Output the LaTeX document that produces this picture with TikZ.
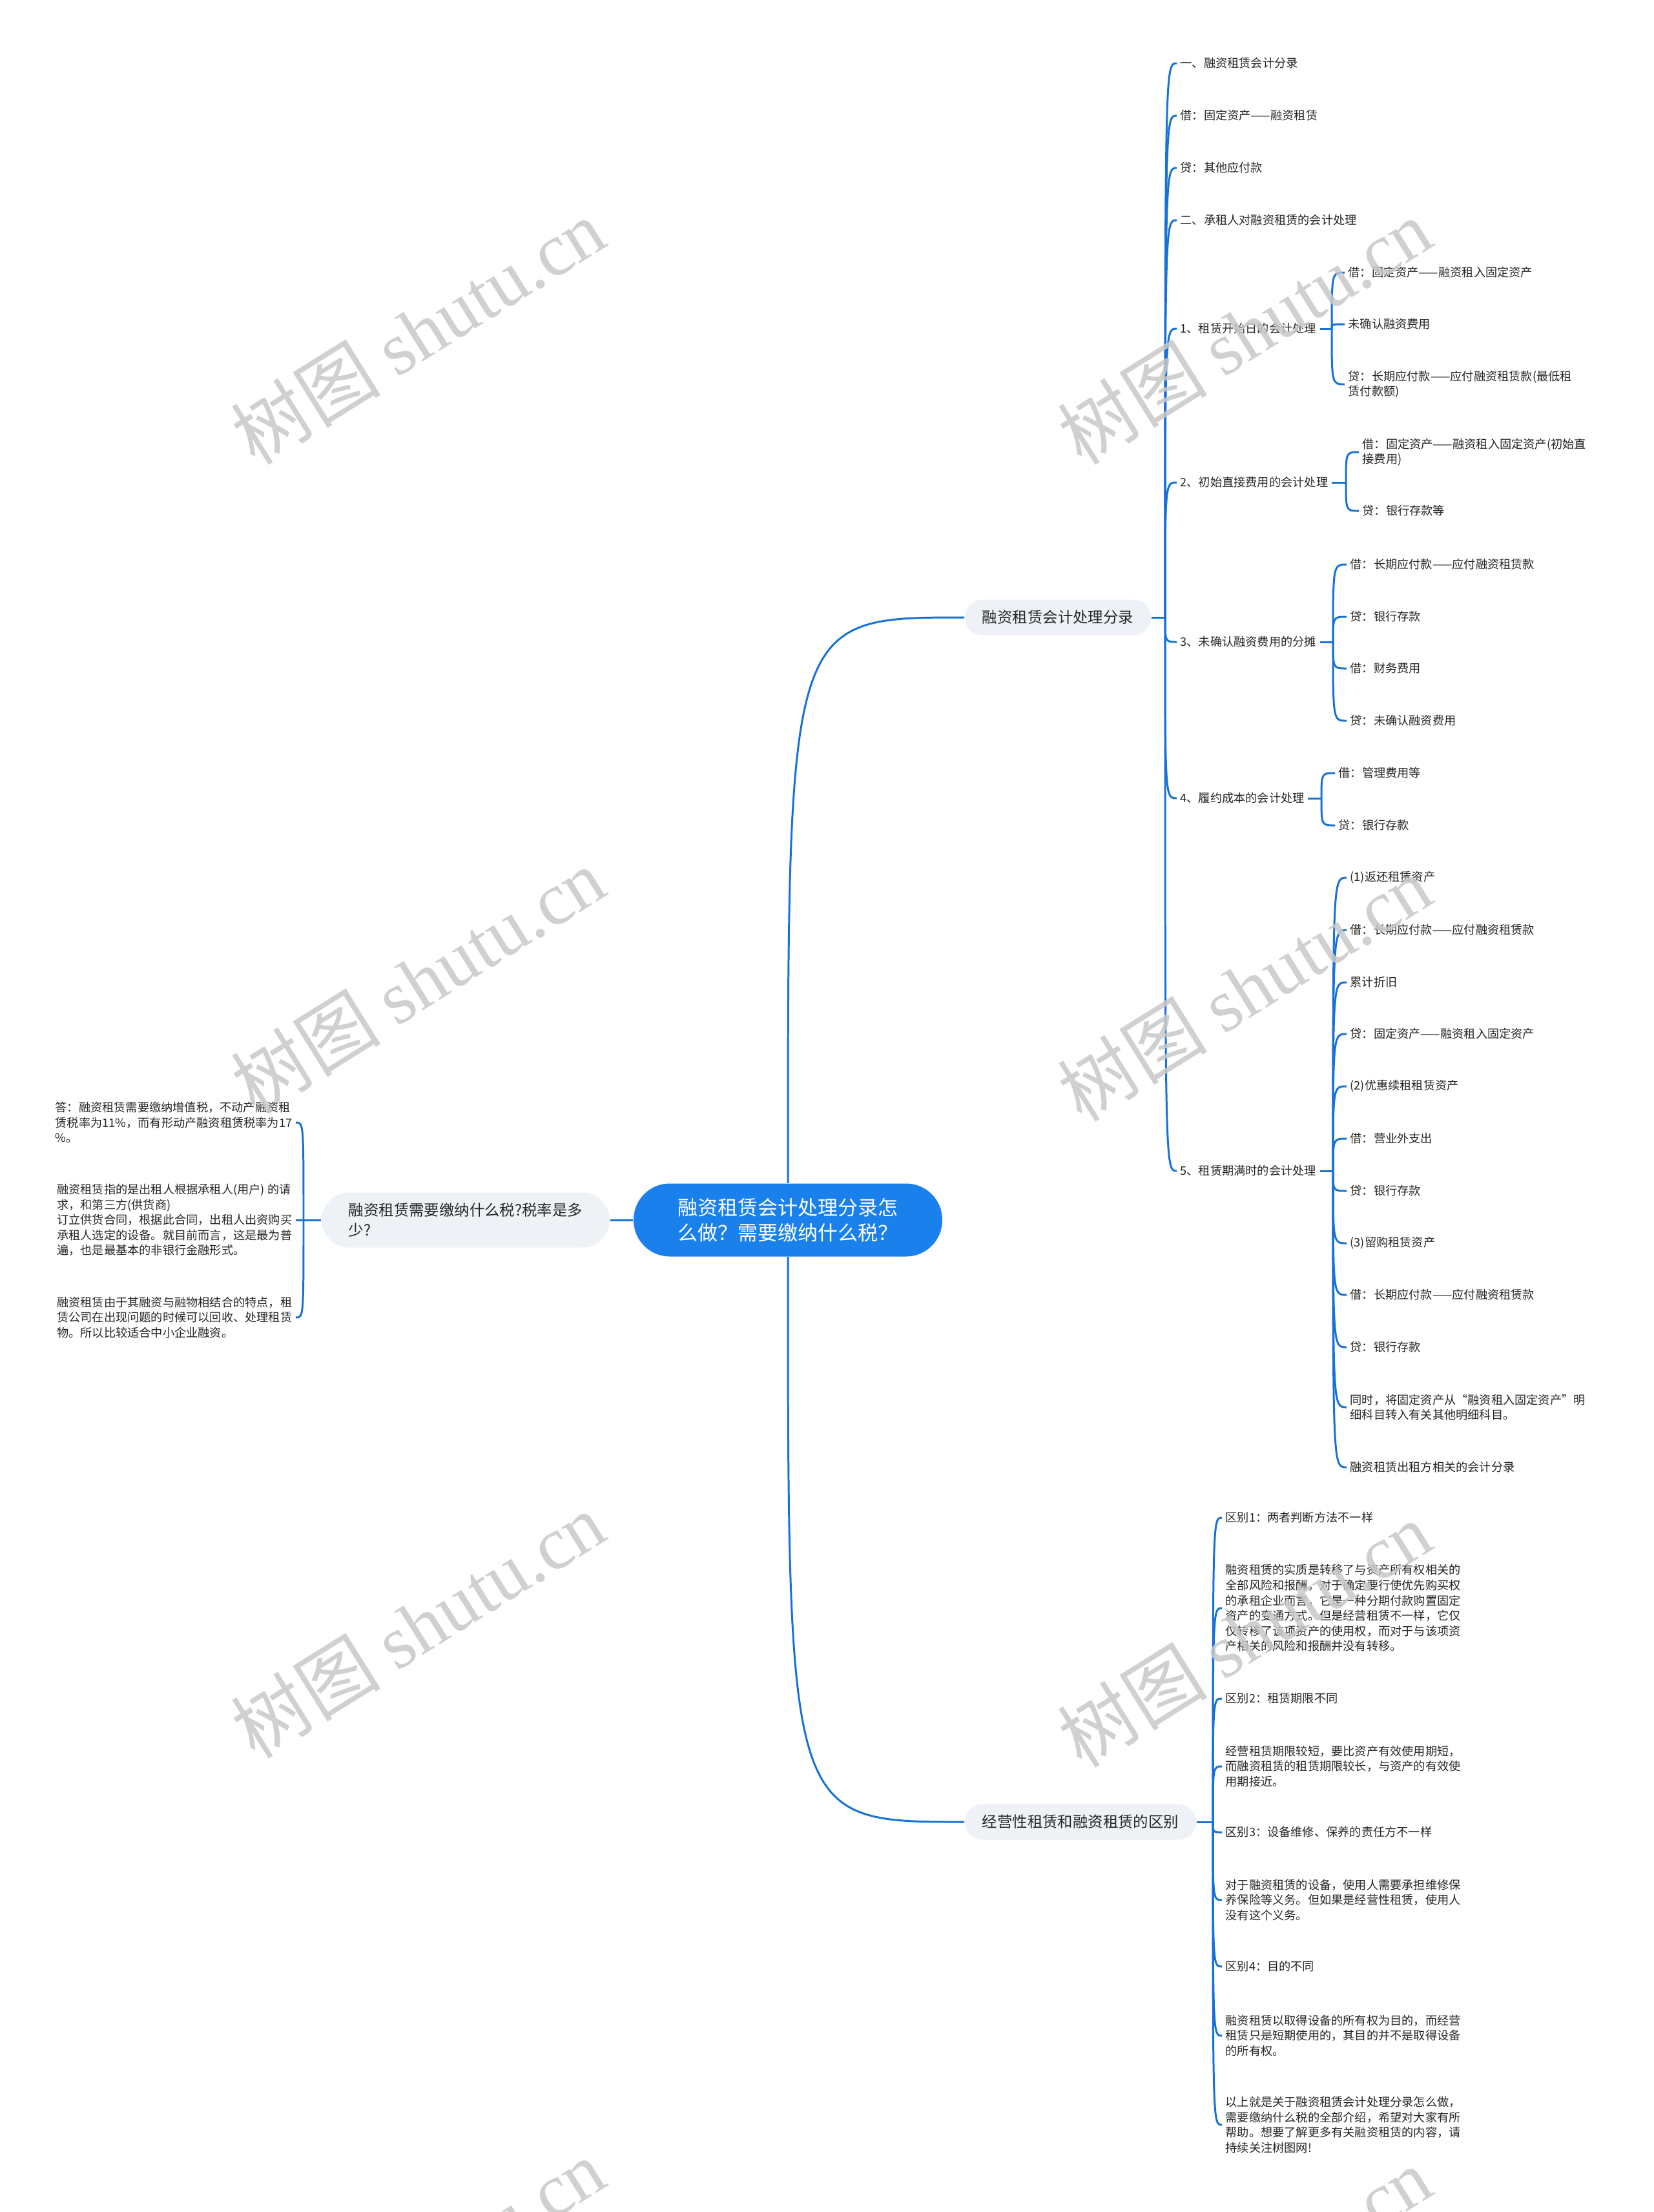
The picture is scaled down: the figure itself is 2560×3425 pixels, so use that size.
\documentclass[tikz,border=0pt]{standalone}
\usepackage{fontspec}
\setmainfont{Noto Sans CJK SC}
\newfontfamily\wmfont{Liberation Serif}
\definecolor{rootblue}{RGB}{26,128,235}
\definecolor{connblue}{RGB}{22,114,214}
\definecolor{boxgray}{RGB}{238,241,245}
\definecolor{inkgray}{RGB}{38,38,38}
\definecolor{wmgray}{RGB}{200,200,200}

\begin{document}
\begin{tikzpicture}[x=0.1mm, y=-0.1mm,
  conn/.style={connblue, line width=0.85pt},
  leaf/.style={anchor=west, inner sep=1.4pt, align=left, text=inkgray, font=\fontsize{5.18pt}{6.71pt}\selectfont},
  leafl/.style={leaf, anchor=east},
  topic/.style={fill=boxgray, rounded corners=2.75mm, inner xsep=7.7pt, minimum height=5.5mm, text=inkgray, font=\fontsize{6.66pt}{8.7pt}\selectfont},
  wmark/.style={rotate=32, text=wmgray, opacity=0.85, font=\fontsize{33pt}{33pt}\selectfont}]
  \path[use as bounding box, fill=white] (0,0) rectangle (2560,3425);
  \clip (0,0) rectangle (2560,3425);

  \node[fill=rootblue, text=white, rounded corners=5.6mm, minimum width=47.8mm, minimum height=11.3mm, align=left, font=\fontsize{8.82pt}{11.1pt}\selectfont] (root) at (1220,1889) {融资租赁会计处理分录怎\\么做？需要缴纳什么税？};
  \node[topic] (fin) at (1638,956) {融资租赁会计处理分录};
  \node[topic] (dif) at (1673,2821) {经营性租赁和融资租赁的区别};
  \node[topic, minimum width=44.6mm, minimum height=8.5mm, rounded corners=4.25mm, align=left] (tax) at (721,1889) {融资租赁需要缴纳什么税?税率是多\\少?};
  \draw[conn] (root.north) .. controls (root.north |- fin.west) .. (fin.west);
  \draw[conn] (root.south) .. controls (root.south |- dif.west) .. (dif.west);
  \draw[conn] (root.west) -- (tax.east);

  \coordinate (jfin) at (1804,956);
  \draw[conn] (fin.east) -- (jfin);
  \node[leaf] (fin1) at (1822,98) {一、融资租赁会计分录};
  \node[leaf] (fin2) at (1822,179) {借：固定资产——融资租赁};
  \node[leaf] (fin3) at (1822,260) {贷：其他应付款};
  \node[leaf] (fin4) at (1822,341) {二、承租人对融资租赁的会计处理};
  \node[leaf] (fin5) at (1822,509) {1、租赁开始日的会计处理};
  \node[leaf] (fin6) at (1822,747) {2、初始直接费用的会计处理};
  \node[leaf] (fin7) at (1822,994) {3、未确认融资费用的分摊};
  \node[leaf] (fin8) at (1822,1236) {4、履约成本的会计处理};
  \node[leaf] (fin9) at (1822,1813) {5、租赁期满时的会计处理};
  \draw[conn] (jfin) .. controls (jfin |- fin1.west) .. (fin1.west);
  \draw[conn] (jfin) .. controls (jfin |- fin2.west) .. (fin2.west);
  \draw[conn] (jfin) .. controls (jfin |- fin3.west) .. (fin3.west);
  \draw[conn] (jfin) .. controls (jfin |- fin4.west) .. (fin4.west);
  \draw[conn] (jfin) .. controls (jfin |- fin5.west) .. (fin5.west);
  \draw[conn] (jfin) .. controls (jfin |- fin6.west) .. (fin6.west);
  \draw[conn] (jfin) .. controls (jfin |- fin7.west) .. (fin7.west);
  \draw[conn] (jfin) .. controls (jfin |- fin8.west) .. (fin8.west);
  \draw[conn] (jfin) .. controls (jfin |- fin9.west) .. (fin9.west);

  \coordinate (jfin5) at (2062,509);
  \draw[conn] (fin5.east) -- (jfin5);
  \node[leaf] (fin5a) at (2082,422) {借：固定资产——融资租入固定资产};
  \node[leaf] (fin5b) at (2082,502) {未确认融资费用};
  \node[leaf] (fin5c) at (2082,595) {贷：长期应付款——应付融资租赁款(最低租\\赁付款额)};
  \draw[conn] (jfin5) .. controls (jfin5 |- fin5a.west) .. (fin5a.west);
  \draw[conn] (jfin5) .. controls (jfin5 |- fin5b.west) .. (fin5b.west);
  \draw[conn] (jfin5) .. controls (jfin5 |- fin5c.west) .. (fin5c.west);

  \coordinate (jfin6) at (2084,747);
  \draw[conn] (fin6.east) -- (jfin6);
  \node[leaf] (fin6a) at (2104,700) {借：固定资产——融资租入固定资产(初始直\\接费用)};
  \node[leaf] (fin6b) at (2104,791) {贷：银行存款等};
  \draw[conn] (jfin6) .. controls (jfin6 |- fin6a.west) .. (fin6a.west);
  \draw[conn] (jfin6) .. controls (jfin6 |- fin6b.west) .. (fin6b.west);

  \coordinate (jfin7) at (2064,994);
  \draw[conn] (fin7.east) -- (jfin7);
  \node[leaf] (fin7a) at (2085,874) {借：长期应付款——应付融资租赁款};
  \node[leaf] (fin7b) at (2085,955) {贷：银行存款};
  \node[leaf] (fin7c) at (2085,1035) {借：财务费用};
  \node[leaf] (fin7d) at (2085,1116) {贷：未确认融资费用};
  \draw[conn] (jfin7) .. controls (jfin7 |- fin7a.west) .. (fin7a.west);
  \draw[conn] (jfin7) .. controls (jfin7 |- fin7b.west) .. (fin7b.west);
  \draw[conn] (jfin7) .. controls (jfin7 |- fin7c.west) .. (fin7c.west);
  \draw[conn] (jfin7) .. controls (jfin7 |- fin7d.west) .. (fin7d.west);

  \coordinate (jfin8) at (2046,1236);
  \draw[conn] (fin8.east) -- (jfin8);
  \node[leaf] (fin8a) at (2067,1197) {借：管理费用等};
  \node[leaf] (fin8b) at (2067,1278) {贷：银行存款};
  \draw[conn] (jfin8) .. controls (jfin8 |- fin8a.west) .. (fin8a.west);
  \draw[conn] (jfin8) .. controls (jfin8 |- fin8b.west) .. (fin8b.west);

  \coordinate (jfin9) at (2064,1813);
  \draw[conn] (fin9.east) -- (jfin9);
  \node[leaf] (fin9a) at (2085,1359) {(1)返还租赁资产};
  \node[leaf] (fin9b) at (2085,1440) {借：长期应付款——应付融资租赁款};
  \node[leaf] (fin9c) at (2085,1521) {累计折旧};
  \node[leaf] (fin9d) at (2085,1601) {贷：固定资产——融资租入固定资产};
  \node[leaf] (fin9e) at (2085,1682) {(2)优惠续租租赁资产};
  \node[leaf] (fin9f) at (2085,1763) {借：营业外支出};
  \node[leaf] (fin9g) at (2085,1844) {贷：银行存款};
  \node[leaf] (fin9h) at (2085,1925) {(3)留购租赁资产};
  \node[leaf] (fin9i) at (2085,2005) {借：长期应付款——应付融资租赁款};
  \node[leaf] (fin9j) at (2085,2086) {贷：银行存款};
  \node[leaf] (fin9k) at (2085,2179) {同时，将固定资产从“融资租入固定资产”明\\细科目转入有关其他明细科目。};
  \node[leaf] (fin9l) at (2085,2272) {融资租赁出租方相关的会计分录};
  \draw[conn] (jfin9) .. controls (jfin9 |- fin9a.west) .. (fin9a.west);
  \draw[conn] (jfin9) .. controls (jfin9 |- fin9b.west) .. (fin9b.west);
  \draw[conn] (jfin9) .. controls (jfin9 |- fin9c.west) .. (fin9c.west);
  \draw[conn] (jfin9) .. controls (jfin9 |- fin9d.west) .. (fin9d.west);
  \draw[conn] (jfin9) .. controls (jfin9 |- fin9e.west) .. (fin9e.west);
  \draw[conn] (jfin9) .. controls (jfin9 |- fin9f.west) .. (fin9f.west);
  \draw[conn] (jfin9) .. controls (jfin9 |- fin9g.west) .. (fin9g.west);
  \draw[conn] (jfin9) .. controls (jfin9 |- fin9h.west) .. (fin9h.west);
  \draw[conn] (jfin9) .. controls (jfin9 |- fin9i.west) .. (fin9i.west);
  \draw[conn] (jfin9) .. controls (jfin9 |- fin9j.west) .. (fin9j.west);
  \draw[conn] (jfin9) .. controls (jfin9 |- fin9k.west) .. (fin9k.west);
  \draw[conn] (jfin9) .. controls (jfin9 |- fin9l.west) .. (fin9l.west);

  \coordinate (jdif) at (1878,2821);
  \draw[conn] (dif.east) -- (jdif);
  \node[leaf] (dif1) at (1892,2350) {区别1：两者判断方法不一样};
  \node[leaf] (dif2) at (1892,2490) {融资租赁的实质是转移了与资产所有权相关的\\全部风险和报酬，对于确定要行使优先购买权\\的承租企业而言，它是一种分期付款购置固定\\资产的变通方式。但是经营租赁不一样，它仅\\仅转移了该项资产的使用权，而对于与该项资\\产相关的风险和报酬并没有转移。};
  \node[leaf] (dif3) at (1892,2630) {区别2：租赁期限不同};
  \node[leaf] (dif4) at (1892,2735) {经营租赁期限较短，要比资产有效使用期短，\\而融资租赁的租赁期限较长，与资产的有效使\\用期接近。};
  \node[leaf] (dif5) at (1892,2837) {区别3：设备维修、保养的责任方不一样};
  \node[leaf] (dif6) at (1892,2942) {对于融资租赁的设备，使用人需要承担维修保\\养保险等义务。但如果是经营性租赁，使用人\\没有这个义务。};
  \node[leaf] (dif7) at (1892,3045) {区别4：目的不同};
  \node[leaf] (dif8) at (1892,3152) {融资租赁以取得设备的所有权为目的，而经营\\租赁只是短期使用的，其目的并不是取得设备\\的所有权。};
  \node[leaf] (dif9) at (1892,3290) {以上就是关于融资租赁会计处理分录怎么做，\\需要缴纳什么税的全部介绍，希望对大家有所\\帮助。想要了解更多有关融资租赁的内容，请\\持续关注树图网!};
  \draw[conn] (jdif) .. controls (jdif |- dif1.west) .. (dif1.west);
  \draw[conn] (jdif) .. controls (jdif |- dif2.west) .. (dif2.west);
  \draw[conn] (jdif) .. controls (jdif |- dif3.west) .. (dif3.west);
  \draw[conn] (jdif) .. controls (jdif |- dif4.west) .. (dif4.west);
  \draw[conn] (jdif) .. controls (jdif |- dif5.west) .. (dif5.west);
  \draw[conn] (jdif) .. controls (jdif |- dif6.west) .. (dif6.west);
  \draw[conn] (jdif) .. controls (jdif |- dif7.west) .. (dif7.west);
  \draw[conn] (jdif) .. controls (jdif |- dif8.west) .. (dif8.west);
  \draw[conn] (jdif) .. controls (jdif |- dif9.west) .. (dif9.west);

  \coordinate (jtax) at (470,1889);
  \draw[conn] (tax.west) -- (jtax);
  \node[leafl] (tax1) at (458,1738) {答：融资租赁需要缴纳增值税，不动产融资租\\赁税率为11\%，而有形动产融资租赁税率为17\\\%。};
  \node[leafl] (tax2) at (458,1889) {融资租赁指的是出租人根据承租人(用户) 的请\\求，和第三方(供货商)\\订立供货合同，根据此合同，出租人出资购买\\承租人选定的设备。就目前而言，这是最为普\\遍，也是最基本的非银行金融形式。};
  \node[leafl] (tax3) at (458,2040) {融资租赁由于其融资与融物相结合的特点，租\\赁公司在出现问题的时候可以回收、处理租赁\\物。所以比较适合中小企业融资。};
  \draw[conn] (jtax) .. controls (jtax |- tax1.east) .. (tax1.east);
  \draw[conn] (jtax) -- (tax2.east);
  \draw[conn] (jtax) .. controls (jtax |- tax3.east) .. (tax3.east);

  \node[wmark] (wm1) at (647,513) {树图 {\wmfont shutu.cn}};
  \node[wmark] (wm2) at (1927,513) {树图 {\wmfont shutu.cn}};
  \node[wmark] (wm3) at (647,1518) {树图 {\wmfont shutu.cn}};
  \node[wmark] (wm4) at (1927,1530) {树图 {\wmfont shutu.cn}};
  \node[wmark] (wm5) at (647,2516) {树图 {\wmfont shutu.cn}};
  \node[wmark] (wm6) at (1927,2530) {树图 {\wmfont shutu.cn}};
  \node[wmark] (wm7) at (647,3517) {树图 {\wmfont shutu.cn}};
  \node[wmark] (wm8) at (1927,3530) {树图 {\wmfont shutu.cn}};
\end{tikzpicture}
\end{document}
